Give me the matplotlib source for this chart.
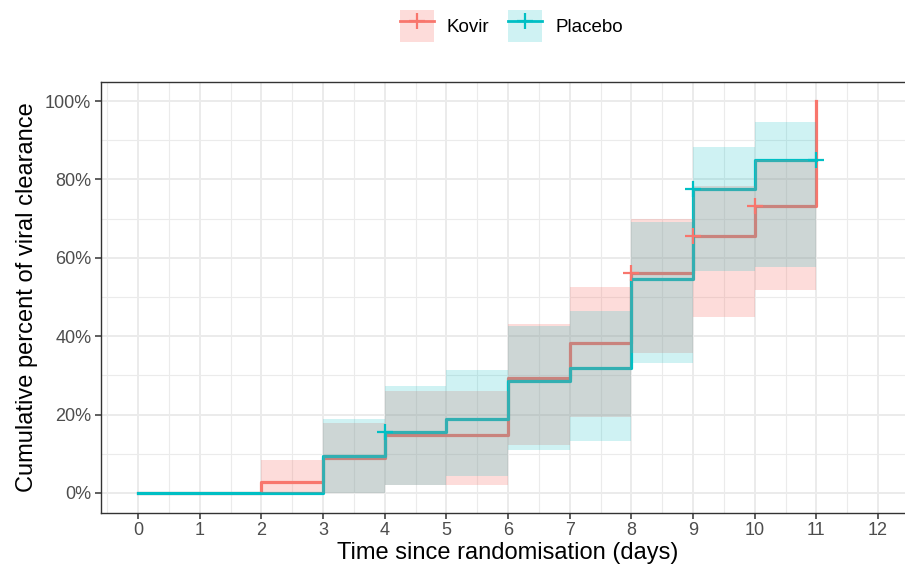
import matplotlib
matplotlib.use("Agg")
import matplotlib.pyplot as plt
from matplotlib.lines import Line2D
from matplotlib.patches import Patch
from matplotlib.legend_handler import HandlerTuple
from matplotlib.ticker import FuncFormatter, MultipleLocator

plt.rcParams['font.family'] = ['Liberation Sans', 'DejaVu Sans']

# Kovir arm (cumulative % cleared, step post)
kovir_t = [0, 2, 3, 4, 5, 6, 7, 8, 9, 10, 11]
kovir_y = [0, 2.9, 8.9, 14.7, 14.7, 29.4, 38.2, 56.0, 65.5, 73.2, 100]
kovir_lo = [0, 0, 0, 2.0, 2.0, 12.2, 19.5, 35.6, 44.8, 51.8, 51.8]
kovir_hi = [0, 8.4, 17.9, 25.9, 25.9, 43.0, 52.6, 69.8, 78.3, 85.0, 85.0]
kovir_cens_t = [8, 9, 10]
kovir_cens_y = [56.0, 65.5, 73.2]

# Placebo arm
plac_t = [0, 3, 4, 5, 6, 7, 8, 9, 10, 11]
plac_y = [0, 9.4, 15.6, 18.8, 28.6, 32.0, 54.7, 77.5, 85.0, 85.0]
plac_lo = [0, 0, 2.0, 4.2, 11.0, 13.3, 33.2, 56.6, 57.6, 57.6]
plac_hi = [0, 18.9, 27.3, 31.4, 42.7, 46.4, 69.2, 88.2, 94.7, 94.7]
plac_cens_t = [4, 9, 11]
plac_cens_y = [15.6, 77.5, 85.0]

red = '#F8766D'
cyan = '#00BFC4'
red_alpha = 0.25
cyan_alpha = 0.19

fig = plt.figure(figsize=(9.05, 5.69), dpi=100)
ax = fig.add_axes([101 / 905, 1 - 512.5 / 569, (915 - 101) / 905, (512.5 - 81.5) / 569])

# lines first, ribbons on top (as in the original)
ax.step(kovir_t, kovir_y, where='post', color=red, lw=2.3, zorder=3)
ax.step(plac_t, plac_y, where='post', color=cyan, lw=2.3, zorder=3)
ax.fill_between(kovir_t, kovir_lo, kovir_hi, step='post', color=red, alpha=red_alpha, lw=0, zorder=4)
ax.fill_between(plac_t, plac_lo, plac_hi, step='post', color=cyan, alpha=cyan_alpha, lw=0, zorder=4)
ax.plot(kovir_cens_t, kovir_cens_y, ls='none', marker='+', ms=12, mew=1.6, color=red, zorder=5)
ax.plot(plac_cens_t, plac_cens_y, ls='none', marker='+', ms=12, mew=1.6, color=cyan, zorder=5)

ax.set_xlim(-0.6, 12.6)
ax.set_ylim(-5, 105)
ax.xaxis.set_major_locator(MultipleLocator(1))
ax.xaxis.set_minor_locator(MultipleLocator(0.5))
ax.yaxis.set_major_locator(MultipleLocator(20))
ax.yaxis.set_minor_locator(MultipleLocator(10))
ax.yaxis.set_major_formatter(FuncFormatter(lambda v, p: '%d%%' % v))

ax.set_axisbelow(True)
ax.grid(which='major', color='#EBEBEB', lw=1.4, zorder=0)
ax.grid(which='minor', color='#EBEBEB', lw=0.8, zorder=0)
for s in ax.spines.values():
    s.set_color('#333333')
    s.set_linewidth(1.0)
ax.tick_params(which='major', direction='out', length=4, width=1.1, color='#333333',
               labelsize=13, labelcolor='#4D4D4D', pad=3)
ax.tick_params(which='minor', length=0)

ax.set_xlabel('Time since randomisation (days)', fontsize=17, color='black', labelpad=2)
ax.set_ylabel('Cumulative percent of viral clearance', fontsize=17, color='black', labelpad=5)

handles = [
    (Patch(facecolor=red, alpha=red_alpha, lw=0), Line2D([], [], color=red, lw=2, marker='+', ms=12, mew=1.6)),
    (Patch(facecolor=cyan, alpha=cyan_alpha, lw=0), Line2D([], [], color=cyan, lw=2, marker='+', ms=12, mew=1.6)),
]
fig.legend(handles, ['Kovir', 'Placebo'], handler_map={tuple: HandlerTuple(ndivide=1)},
           loc='upper center', bbox_to_anchor=(0.565, 1.012), ncol=2, frameon=False,
           fontsize=13.5, handlelength=1.8, handleheight=2.25, handletextpad=0.7, columnspacing=1.0)

fig.savefig('out.png', dpi=100)
